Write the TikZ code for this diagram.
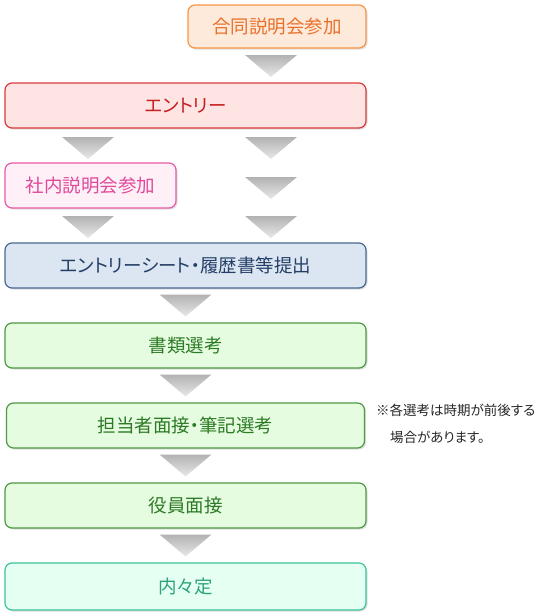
\documentclass[tikz,border=0pt]{standalone}
\usepackage{fontspec}
\setmainfont{Noto Sans CJK JP}[RawFeature=+palt]
\usetikzlibrary{positioning, calc, shadows}

\definecolor{orfill}{HTML}{FDEADA}
\definecolor{ordraw}{HTML}{F79646}
\definecolor{ortext}{HTML}{E8702A}
\definecolor{rdfill}{HTML}{FFE4E4}
\definecolor{rddraw}{HTML}{D93A3A}
\definecolor{rdtext}{HTML}{C81E1E}
\definecolor{pkfill}{HTML}{FFF0F8}
\definecolor{pkdraw}{HTML}{E65AA6}
\definecolor{pktext}{HTML}{E0489A}
\definecolor{blfill}{HTML}{DCE6F2}
\definecolor{bldraw}{HTML}{4A6890}
\definecolor{bltext}{HTML}{243F66}
\definecolor{grfill}{HTML}{E6FCE0}
\definecolor{grdraw}{HTML}{4E9A42}
\definecolor{grtext}{HTML}{2C7A26}
\definecolor{tlfill}{HTML}{E6FFF3}
\definecolor{tldraw}{HTML}{3CC49A}
\definecolor{tltext}{HTML}{2CA37A}

% downward block arrow at a given point
\newcommand\flowarrow[1]{\shade[arrowshade, shift={#1}] (-26,11) -- (26,11) -- (0,-11) -- cycle;}

\begin{document}
\begin{tikzpicture}[x=1pt, y=1pt, node distance=35pt,
	stage/.style={rounded corners=7pt, line width=1.2pt, minimum height=45pt,
		minimum width=361pt, inner sep=0pt, outer sep=0pt,
		font=\fontsize{18.5}{22}\selectfont,
		drop shadow={shadow xshift=1.5pt, shadow yshift=-1.5pt, opacity=0.25}},
	orangebox/.style={draw=ordraw, fill=orfill, text=ortext},
	redbox/.style={draw=rddraw, fill=rdfill, text=rdtext},
	pinkbox/.style={draw=pkdraw, fill=pkfill, text=pktext},
	bluebox/.style={draw=bldraw, fill=blfill, text=bltext},
	greenbox/.style={draw=grdraw, fill=grfill, text=grtext},
	tealbox/.style={draw=tldraw, fill=tlfill, text=tltext},
	arrowshade/.style={top color=gray!60, bottom color=gray!18, draw=none}]
	\useasboundingbox (0,0) rectangle (547,-616);

	\node[stage, orangebox, minimum width=178pt, minimum height=43pt, anchor=north east] (goudou) at (366,-5) {合同説明会参加};
	\node[stage, redbox, below=of goudou.south east, anchor=north east] (entry) {エントリー};
	\node[stage, pinkbox, minimum width=171pt, below=of entry.south west, anchor=north west] (shanai) {社内説明会参加};
	\node[stage, bluebox, below=of shanai.south west, anchor=north west] (es) {エントリーシート・履歴書等提出};
	\node[stage, greenbox, below=of es] (shorui) {書類選考};
	\node[stage, greenbox, minimum width=358pt, below=of shorui] (mensetsu) {担当者面接・筆記選考};
	\node[stage, greenbox, below=of mensetsu] (yakuin) {役員面接};
	\node[stage, tealbox, minimum height=47pt, below=of yakuin] (naitei) {内々定};

	\node[anchor=north west, inner sep=0pt, align=left, text=black!85,
		font=\fontsize{13.5}{27}\selectfont] (note) at (376,-404)
		{※各選考は時期が前後する\\\hspace{14pt}場合があります。};

	% arrows
	\flowarrow{(271,-66)}
	\flowarrow{(88,-148)}
	\flowarrow{(271,-148)}
	\flowarrow{(271,-188)}
	\flowarrow{(88,-227)}
	\flowarrow{(271,-227)}
	\foreach \a/\b in {es/shorui, shorui/mensetsu, mensetsu/yakuin, yakuin/naitei}
		\flowarrow{($(\a.south)!0.5!(\b.north)$)};
\end{tikzpicture}
\end{document}
